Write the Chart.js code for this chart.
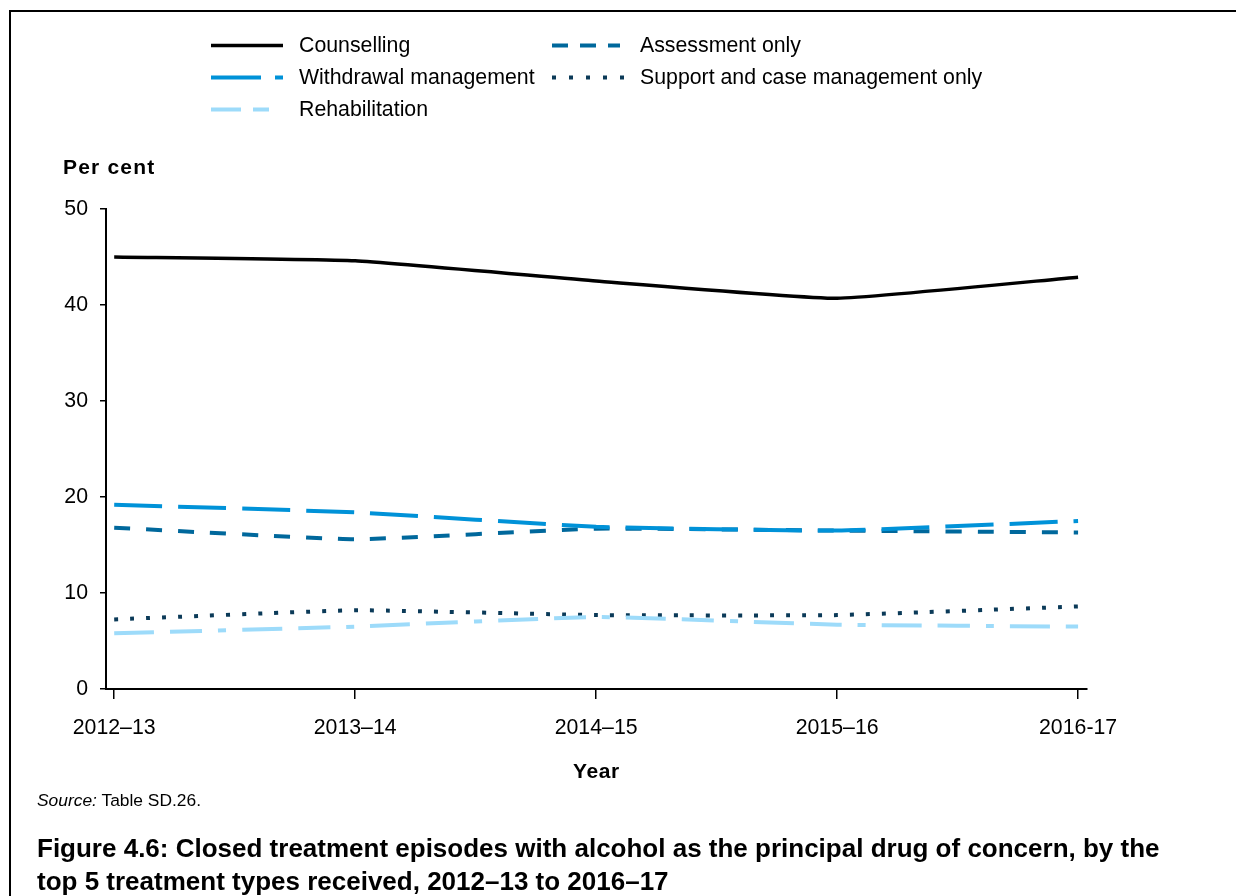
<!DOCTYPE html>
<html lang="en">
<head>
  <meta charset="UTF-8" />
  <title>Figure 4.6</title>
  <script src="https://cdn.jsdelivr.net/npm/chart.js"></script>
  <style>
    body {
      margin: 0;
      width: 1236px;
      height: 896px;
      overflow: hidden;
      background: #fff;
      font-family: "Liberation Sans", Arial, sans-serif;
      color: #000;
      position: relative;
    }
    .frame {
      position: absolute;
      left: 9px;
      top: 10px;
      width: 1300px;
      height: 1000px;
      border-left: 2px solid #000;
      border-top: 2px solid #000;
    }
    #chartBox {
      position: absolute;
      left: 0;
      top: 0;
      width: 1236px;
      height: 896px;
    }
    .txt {
      position: absolute;
      white-space: nowrap;
    }
    .legend-item {
      position: absolute;
      height: 21px;
      font-size: 21.3px;
      line-height: 21px;
      white-space: nowrap;
    }
    .legend-item svg {
      position: absolute;
      left: 0;
      top: 0;
    }
    .legend-item span {
      position: absolute;
      top: 0;
    }
  </style>
</head>
<body>
  <div class="frame"></div>
  <div id="chartBox"><canvas id="lineChart" width="1236" height="896"></canvas></div>
  <div id="legend"></div>

  <div class="txt" style="left:63px; top:156px; font-size:21px; line-height:21px; font-weight:bold; letter-spacing:1.2px;">Per cent</div>
  <div class="txt" style="left:573px; top:760px; font-size:21px; line-height:21px; font-weight:bold; letter-spacing:0.6px;">Year</div>
  <div class="txt" style="left:37px; top:792px; font-size:17.4px; line-height:17px;"><i>Source:</i> Table SD.26.</div>
  <div class="txt" style="left:37px; top:832px; font-size:26px; line-height:33px; font-weight:bold;">Figure 4.6: Closed treatment episodes with alcohol as the principal drug of concern, by the<br>top 5 treatment types received, 2012–13 to 2016–17</div>

  <script>
    const years = ['2012–13', '2013–14', '2014–15', '2015–16', '2016-17'];
    const counselling = [45.0, 44.6, 42.5, 40.7, 42.9];
    const withdrawal = [19.2, 18.4, 16.9, 16.5, 17.5];
    const assessment = [16.8, 15.6, 16.7, 16.5, 16.3];
    const support = [7.25, 8.2, 7.7, 7.7, 8.6];
    const rehab = [5.8, 6.5, 7.5, 6.7, 6.5];
    const yTicks = [0, 10, 20, 30, 40, 50];

    // series styles
    const series = [
      { label: 'Counselling', data: counselling, color: '#000000', width: 3.5, dash: [] },
      { label: 'Withdrawal management', data: withdrawal, color: '#0092d8', width: 4, dash: [48, 16] },
      { label: 'Rehabilitation', data: rehab, color: '#9ddbfa', width: 4, dash: [40, 16, 32, 16, 8, 16] },
      { label: 'Assessment only', data: assessment, color: '#00689c', width: 4, dash: [16, 16] },
      { label: 'Support and case management only', data: support, color: '#0b3a58', width: 4, dash: [4, 12] }
    ];

    // legend (two columns, like the original)
    const legendSpots = [
      { x: 211, y: 35 }, { x: 211, y: 67 }, { x: 211, y: 99 },
      { x: 552, y: 35 }, { x: 552, y: 67 }
    ];
    const legendDash = [[], [50, 14, 8, 100], [30, 12, 16, 100], [16, 12, 16, 12, 12, 100], [4, 13]];
    const legendDiv = document.getElementById('legend');
    series.forEach((s, i) => {
      const p = legendSpots[i];
      const item = document.createElement('div');
      item.className = 'legend-item';
      item.style.left = p.x + 'px';
      item.style.top = p.y + 'px';
      const dash = legendDash[i].length ? `stroke-dasharray="${legendDash[i].join(' ')}"` : '';
      item.innerHTML = `
        <svg width="74" height="21"><line x1="0" y1="10.5" x2="72" y2="10.5" stroke="${s.color}" stroke-width="${s.width}" ${dash} /></svg>
        <span style="left:88px">${s.label}</span>
      `;
      legendDiv.appendChild(item);
    });

    const ctx = document.getElementById('lineChart').getContext('2d');
    new Chart(ctx, {
      type: 'line',
      data: {
        datasets: series.map(s => ({
          label: s.label,
          data: s.data.map((v, i) => ({ x: i, y: v })),
          borderColor: s.color,
          borderWidth: s.width,
          borderDash: s.dash,
          pointRadius: 0,
          tension: 0.12,
          fill: false
        }))
      },
      options: {
        responsive: false,
        animation: false,
        devicePixelRatio: 1,
        layout: { padding: { top: 209, left: 0, right: 149, bottom: 0 } },
        plugins: {
          legend: { display: false },
          tooltip: { enabled: false }
        },
        scales: {
          x: {
            type: 'linear',
            min: -0.034,
            max: 4.037,
            afterBuildTicks: scale => { scale.ticks = years.map((_, i) => ({ value: i })); },
            afterFit: scale => { scale.height = 207; },
            ticks: {
              callback: v => years[v],
              color: '#000',
              font: { family: 'Liberation Sans', size: 21.3 },
              padding: 16,
              maxRotation: 0,
              autoSkip: false
            },
            grid: { drawOnChartArea: false, color: '#000', lineWidth: 1.5, tickLength: 10 },
            border: { color: '#000', width: 2 }
          },
          y: {
            min: 0,
            max: 50,
            afterBuildTicks: scale => { scale.ticks = yTicks.map(v => ({ value: v })); },
            afterFit: scale => { scale.width = 106; },
            ticks: {
              color: '#000',
              font: { family: 'Liberation Sans', size: 21.3 },
              padding: 12
            },
            grid: { drawOnChartArea: false, color: '#000', lineWidth: 1.5, tickLength: 6 },
            border: { color: '#000', width: 2 }
          }
        }
      }
    });
  </script>
</body>
</html>
